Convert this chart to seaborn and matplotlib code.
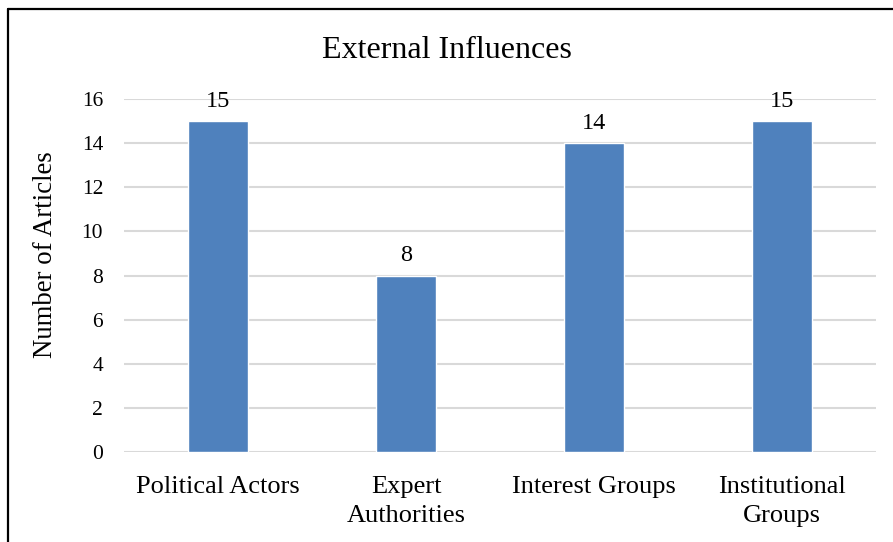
import matplotlib
matplotlib.use("Agg")
import matplotlib.pyplot as plt
import seaborn as sns
import pandas as pd
from matplotlib.lines import Line2D

# chart data
categories = ["Political Actors", "Expert\nAuthorities", "Interest Groups", "Institutional\nGroups"]
articles = [15, 8, 14, 15]
yticks = [0, 2, 4, 6, 8, 10, 12, 14, 16]

df = pd.DataFrame({"category": categories, "articles": articles})

sns.set_style("white")
plt.rcParams["font.family"] = ["Liberation Serif", "DejaVu Serif"]
plt.rcParams["text.color"] = "black"
plt.rcParams["axes.labelcolor"] = "black"

fig = plt.figure(figsize=(8.93, 5.42), dpi=100)
ax = fig.add_axes([124 / 893, 1 - 452 / 542, (876 - 124) / 893, (452 - 99) / 542])

sns.barplot(data=df, x="category", y="articles", color="#4F81BD", saturation=1,
            width=0.315, ax=ax, zorder=3)

ax.set_ylim(0, 16)
ax.set_xlim(-0.5, 3.5)
ax.set_yticks(yticks)
ax.yaxis.grid(True, color="#D9D9D9", linewidth=1.5, zorder=0)
ax.set_axisbelow(True)
for s in ax.spines.values():
    s.set_visible(False)
ax.tick_params(axis="both", length=0, colors="black")
ax.tick_params(axis="y", pad=15, labelsize=15.5)
ax.tick_params(axis="x", pad=17, labelsize=19)
for lbl in ax.get_xticklabels():
    lbl.set_linespacing(1.45)
ax.set_xlabel("")
ax.set_ylabel("Number of Articles", fontsize=19.3)
ax.yaxis.set_label_coords(-0.088, 0.56)

for i, v in enumerate(articles):
    ax.text(i, v + 0.9, str(v), ha="center", va="center", fontsize=17.5)

fig.text(0.5, 1 - 50 / 542, "External Influences", ha="center", va="center", fontsize=23)

# outer frame (left and top edges)
fig.add_artist(Line2D([8 / 893, 8 / 893], [0, 1 - 9 / 542], color="black", linewidth=1.6,
                      transform=fig.transFigure))
fig.add_artist(Line2D([8 / 893, 1], [1 - 9 / 542, 1 - 9 / 542], color="black", linewidth=1.6,
                      transform=fig.transFigure))

fig.savefig("out.png", dpi=100)
